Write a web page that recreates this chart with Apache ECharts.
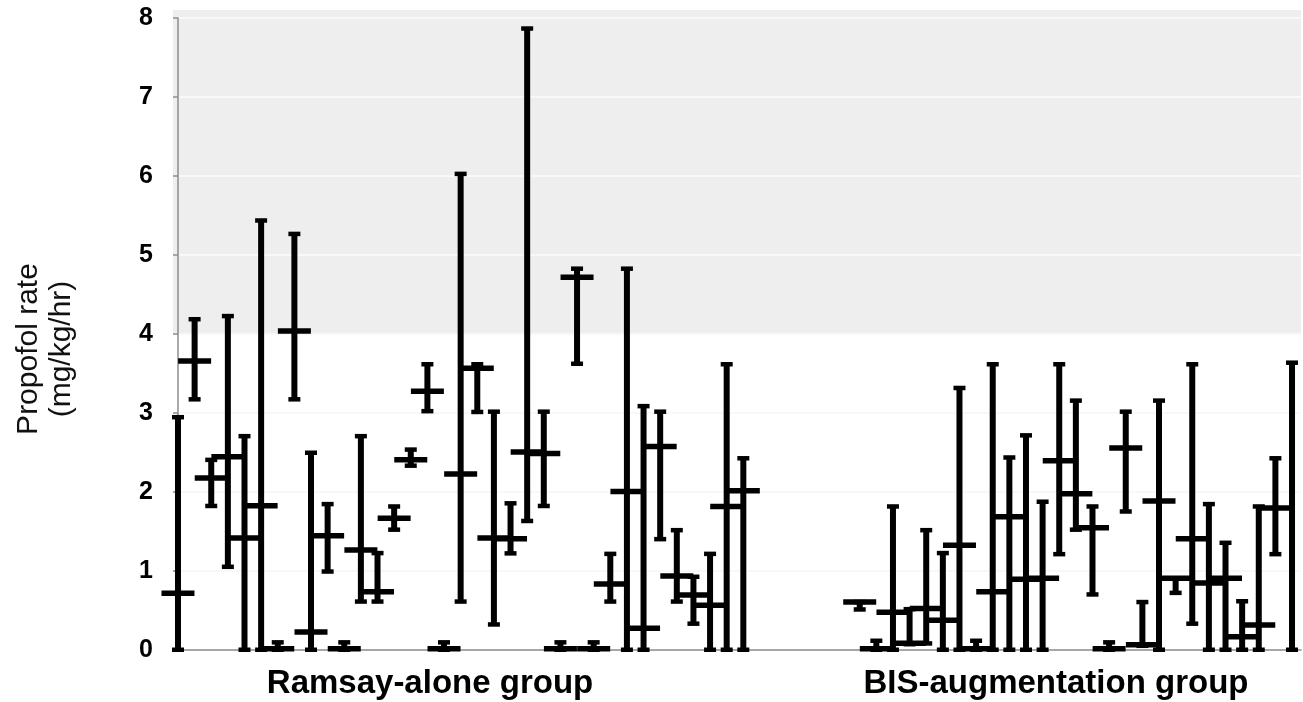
<!DOCTYPE html>
<html>
<head>
<meta charset="utf-8">
<script src="https://cdn.jsdelivr.net/npm/echarts@6/dist/echarts.min.js"></script>
<style>
html,body{margin:0;padding:0;background:#fff;}
#chart{width:1303px;height:702px;}
</style>
</head>
<body>
<div id="chart"></div>
<script>
// ---- Data ----
const groupLabels = ['Ramsay-alone group', 'BIS-augmentation group'];
const yTicks = [0, 1, 2, 3, 4, 5, 6, 7, 8];
const yAxisTitle = ['Propofol rate', '(mg/kg/hr)'];

// Ramsay-alone group: 35 subjects (low, high, mean)
const ramsayLow  = [0, 3.17, 1.82, 1.05, 0, 0, 0, 3.17, 0, 0.99, 0, 0.61, 0.61, 1.52, 2.33, 3.02, 0, 0.61,
                    3.01, 0.32, 1.22, 1.63, 1.82, 0, 3.62, 0, 0.61, 0, 0, 1.40, 0.61, 0.33, 0, 0, 0];
const ramsayHigh = [2.95, 4.19, 2.41, 4.23, 2.71, 5.44, 0.10, 5.27, 2.50, 1.85, 0.10, 2.71, 1.23, 1.82, 2.54, 3.62, 0.10, 6.03,
                    3.62, 3.02, 1.86, 7.87, 3.02, 0.10, 4.83, 0.10, 1.22, 4.83, 3.09, 3.02, 1.52, 0.93, 1.22, 3.62, 2.43];
const ramsayMean = [0.72, 3.66, 2.18, 2.45, 1.42, 1.83, 0.02, 4.04, 0.23, 1.45, 0.02, 1.27, 0.74, 1.67, 2.41, 3.28, 0.02, 2.23,
                    3.57, 1.42, 1.41, 2.51, 2.49, 0.02, 4.72, 0.02, 0.84, 2.01, 0.28, 2.58, 0.94, 0.70, 0.57, 1.82, 2.02];

// BIS-augmentation group: 27 subjects (last one has no visible mean)
const bisLow  = [0.51, 0, 0, 0.07, 0.08, 0, 0, 0, 0, 0, 0, 0, 1.21, 1.52, 0.70, 0, 1.75, 0.05, 0, 0.72, 0.33, 0, 0, 0, 0, 1.21, 0];
const bisHigh = [0.61, 0.12, 1.82, 0.52, 1.52, 1.23, 3.32, 0.12, 3.62, 2.44, 2.72, 1.88, 3.62, 3.16, 1.82, 0.10, 3.02, 0.61,
                 3.16, 0.91, 3.62, 1.85, 1.36, 0.62, 1.82, 2.43, 3.64];
const bisMean = [0.61, 0.02, 0.48, 0.09, 0.53, 0.38, 1.33, 0.02, 0.74, 1.69, 0.90, 0.91, 2.40, 1.98, 1.55, 0.02, 2.56, 0.07,
                 1.89, 0.91, 1.41, 0.85, 0.91, 0.17, 0.32, 1.80, null];

// slot (category index) layout: Ramsay subjects, empty gap slots, BIS subjects
const gapSlots = 6;
const bisStart = ramsayMean.length + gapSlots;

const errData = [];
ramsayMean.forEach((m, i) => errData.push([i, ramsayLow[i], ramsayHigh[i], m]));
bisMean.forEach((m, i) => errData.push([bisStart + i, bisLow[i], bisHigh[i], m]));

const chart = echarts.init(document.getElementById('chart'), null, {renderer: 'canvas'});

const lastSlot = bisStart + bisMean.length - 1;

const option = {
  animation: false,
  backgroundColor: '#ffffff',
  grid: {left: 173, right: 2, top: 18, bottom: 52},
  xAxis: {
    type: 'value',
    min: -0.3,
    max: lastSlot + 0.54,
    axisLine: {show: true, onZero: false, lineStyle: {color: '#8c8c8c', width: 1.5}},
    axisTick: {show: false},
    axisLabel: {show: false},
    splitLine: {show: false}
  },
  yAxis: {
    type: 'value',
    min: yTicks[0],
    max: yTicks[yTicks.length - 1],
    interval: 1,
    axisLine: {show: true, lineStyle: {color: '#8c8c8c', width: 1.5}},
    axisTick: {show: true, inside: false, length: 5, lineStyle: {color: '#8c8c8c', width: 1.5}},
    axisLabel: {
      show: true, margin: 20, color: '#000',
      fontFamily: 'Liberation Sans, Arial, sans-serif', fontWeight: 'bold', fontSize: 25
    },
    splitLine: {show: true, lineStyle: {color: '#f8f8f8', width: 2}}
  },
  series: [
    {
      type: 'custom',
      name: 'band',
      silent: true,
      z: -1,
      clip: false,
      data: [[4, 8.1]],
      encode: {y: [0, 1]},
      renderItem: function (params, api) {
        const cs = params.coordSys;
        const yb = api.coord([0, api.value(0)])[1];
        const yt = api.coord([0, api.value(1)])[1];
        return {
          type: 'rect',
          shape: {x: cs.x, y: yt, width: cs.width, height: yb - yt},
          style: {fill: '#eeeeee'}
        };
      }
    },
    {
      type: 'custom',
      name: 'propofol',
      clip: false,
      data: errData,
      encode: {x: 0, y: [1, 2]},
      renderItem: function (params, api) {
        const x = api.value(0);
        const lo = api.value(1), hi = api.value(2), m = api.value(3);
        const pLo = api.coord([x, lo]);
        const pHi = api.coord([x, hi]);
        const children = [
          {type: 'rect', shape: {x: pHi[0] - 3, y: pHi[1], width: 6, height: pLo[1] - pHi[1]}, style: {fill: '#000'}},
          {type: 'rect', shape: {x: pHi[0] - 6, y: pHi[1] - 2, width: 12, height: 4.5}, style: {fill: '#000'}},
          {type: 'rect', shape: {x: pLo[0] - 6, y: pLo[1] - 2.5, width: 12, height: 4.5}, style: {fill: '#000'}}
        ];
        if (m !== null && !isNaN(m)) {
          const pM = api.coord([x, m]);
          children.push({type: 'rect', shape: {x: pM[0] - 16.5, y: pM[1] - 2.5, width: 33, height: 5.5}, style: {fill: '#000'}});
        }
        return {type: 'group', children: children};
      }
    }
  ],
  graphic: [
    {
      type: 'text', x: 430, y: 684,
      style: {text: groupLabels[0], x: 0, y: 0, textAlign: 'center', textVerticalAlign: 'middle',
              font: 'bold 33px "Liberation Sans", Arial, sans-serif', fill: '#000'}
    },
    {
      type: 'text', x: 1056, y: 684,
      style: {text: groupLabels[1], x: 0, y: 0, textAlign: 'center', textVerticalAlign: 'middle',
              font: 'bold 33px "Liberation Sans", Arial, sans-serif', fill: '#000'}
    },
    {
      type: 'text', x: 45, y: 349, rotation: Math.PI / 2,
      style: {text: yAxisTitle.join('\n'), x: 0, y: 0, textAlign: 'center', textVerticalAlign: 'middle',
              lineHeight: 33, font: '30px "Liberation Sans", Arial, sans-serif', fill: '#111'}
    }
  ]
};

chart.setOption(option);
</script>
</body>
</html>
